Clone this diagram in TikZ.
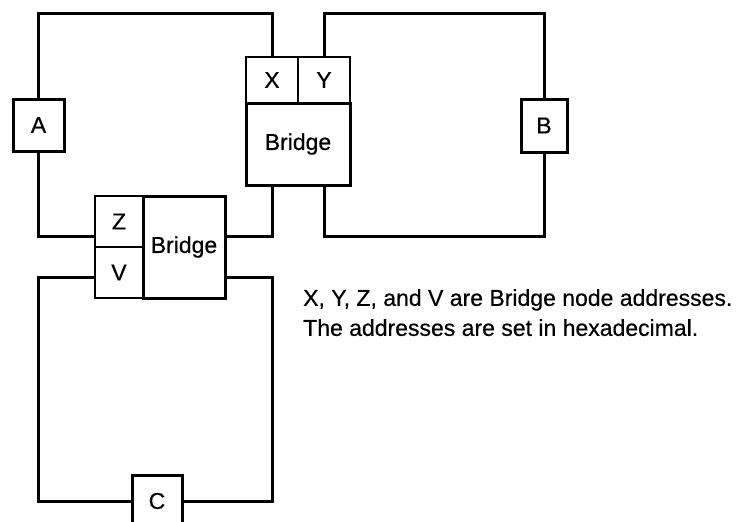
\documentclass[tikz,border=0pt]{standalone}
\usepackage{fontspec}
\setmainfont{Liberation Sans}
\newfontfamily\labelfont[FakeBold=0.5]{Liberation Sans}
\usetikzlibrary{positioning}

\begin{document}
\begin{tikzpicture}[
        x=1pt, y=-1pt,
        every node/.style={font=\labelfont\fontsize{23}{30}\selectfont},
        lan/.style={line width=3pt},
        station/.style={draw, line width=3pt, fill=white, inner sep=0pt},
        port/.style={draw, line width=2.8pt, fill=white, inner sep=0pt},
        bridgebox/.style={draw, line width=3pt, fill=white, inner sep=0pt, align=center}
    ]
    \useasboundingbox (0,0) rectangle (747,522);

    % LAN segments first, boxes drawn on top
    \coordinate (topA) at (0,13);
    \coordinate (midA) at (0,236);
    \coordinate (topC) at (0,277);
    \coordinate (botC) at (0,501);

    \node[station, minimum width=51pt, minimum height=52pt] (A) at (38.5,125) {A};
    \node[station, minimum width=46pt, minimum height=53pt] (B) at (544,125.5) {B};
    \node[station, minimum width=50pt, minimum height=52pt] (C) at (157,501) {C};

    \node[bridgebox, minimum width=104pt, minimum height=82pt] (bridgeT) at (298,144) {Bridge};
    \node[port, minimum width=52pt, minimum height=46pt] (X) at (272,80) {X};
    \node[port, minimum width=52pt, minimum height=46pt] (Y) at (324,80) {Y};

    \node[bridgebox, minimum width=82pt, minimum height=102pt] (bridgeB) at (184,247) {Bridge};
    \node[port, minimum width=48pt, minimum height=51pt] (Z) at (119,221.5) {Z};
    \node[port, minimum width=48pt, minimum height=51pt] (V) at (119,272.5) {V};

    % LAN A
    \draw[lan] (X.north) |- (A.north |- topA) -- (A.north);
    \draw[lan] (A.south) |- (Z.west |- midA);
    \draw[lan] (bridgeB.east |- midA) -| (X.center |- bridgeT.south);

    % LAN B
    \draw[lan] (Y.north) |- (B.north |- topA) -- (B.north);
    \draw[lan] (B.south) |- (Y.center |- midA) -- (Y.center |- bridgeT.south);

    % LAN C
    \draw[lan] (V.west |- topC) -| (A.south |- botC) -- (C.west);
    \draw[lan] (C.east) -| (X.center |- topC) -- (bridgeB.east |- topC);

    \node[anchor=north west, align=left, inner sep=0pt] (note) at (303,289)
        {X, Y, Z, and V are Bridge node addresses.\\The addresses are set in hexadecimal.};
\end{tikzpicture}
\end{document}
